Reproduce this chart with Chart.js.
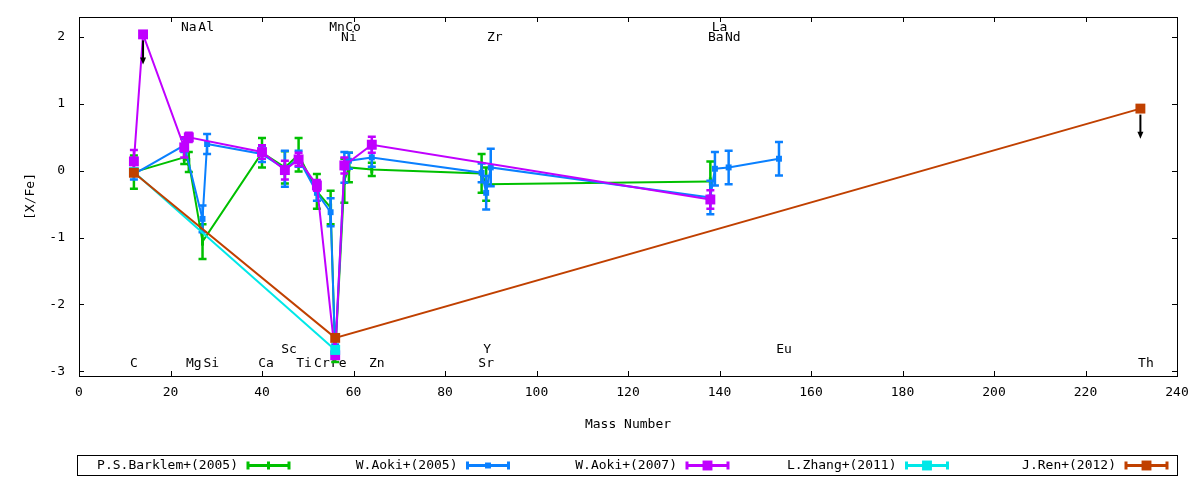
<!DOCTYPE html>
<html>
<head>
<meta charset="utf-8">
<script src="https://cdn.jsdelivr.net/npm/chart.js@4.4.1/dist/chart.umd.min.js"></script>
<style>
  html, body { margin: 0; padding: 0; background: #fff; }
  #wrap { width: 1200px; height: 480px; }
</style>
</head>
<body>
<div id="wrap"><canvas id="abund"></canvas></div>
<script>
const xTicks = [0, 20, 40, 60, 80, 100, 120, 140, 160, 180, 200, 220, 240];
const yTicks = [-3, -2, -1, 0, 1, 2];

const seriesNames = ["P.S.Barklem+(2005)", "W.Aoki+(2005)", "W.Aoki+(2007)", "L.Zhang+(2011)", "J.Ren+(2012)"];

// P.S.Barklem+(2005)
const barklemMass = [12, 23, 24, 27, 40, 45, 48, 52, 55, 56, 58, 59, 64, 88, 89, 138];
const barklemVal  = [-0.02, 0.2, 0.13, -1.06, 0.27, 0.05, 0.24, -0.31, -0.55, -2.75, -0.15, 0.05, 0.02, -0.04, -0.2, -0.16];
const barklemErr  = [0.25, 0.1, 0.15, 0.26, 0.22, 0.24, 0.25, 0.26, 0.25, 0.11, 0.33, 0.22, 0.1, 0.29, 0.25, 0.3];

// W.Aoki+(2005)
const aoki05Mass = [12, 23, 27, 28, 40, 45, 48, 52, 55, 56, 58, 59, 64, 88, 89, 90, 138, 139, 142, 153];
const aoki05Val  = [-0.05, 0.38, -0.72, 0.4, 0.25, 0.03, 0.18, -0.33, -0.62, -2.7, 0.05, 0.15, 0.2, -0.03, -0.33, 0.05, -0.4, 0.03, 0.05, 0.18];
const aoki05Err  = [0.08, 0.1, 0.2, 0.15, 0.12, 0.27, 0.12, 0.12, 0.21, 0.1, 0.23, 0.12, 0.14, 0.14, 0.25, 0.28, 0.25, 0.25, 0.25, 0.25];

// W.Aoki+(2007)
const aoki07Mass  = [12, 14, 23, 24, 40, 45, 48, 52, 56, 58, 64, 138];
const aoki07Val   = [0.14, 2.04, 0.35, 0.5, 0.28, 0.01, 0.17, -0.22, -2.76, 0.08, 0.39, -0.43];
const aoki07Err   = [0.17, 0, 0.15, 0.07, 0.1, 0.14, 0.1, 0.08, 0.05, 0.12, 0.12, 0.14];
const aoki07Upper = [14];

// L.Zhang+(2011)
const zhangMass = [12, 56];
const zhangVal  = [-0.02, -2.68];
const zhangErr  = [0.03, 0.05];

// J.Ren+(2012)
const renMass  = [12, 56, 232];
const renVal   = [-0.03, -2.5, 0.93];
const renErr   = [0, 0, 0];
const renUpper = [232];

// element labels
const elemNames = ["Na", "Al", "Mn", "Co", "Ni", "Zr", "La", "Ba", "Nd",
                   "C", "Mg", "Si", "Ca", "Sc", "Ti", "Cr", "Fe", "Zn", "Y", "Sr", "Eu", "Th"];
const elemX = [24.0, 27.8, 56.4, 59.9, 59.0, 90.9, 140.0, 139.2, 142.9,
               12.0, 25.1, 28.9, 40.9, 45.9, 49.2, 53.1, 56.8, 65.1, 89.2, 89.0, 154.1, 233.2];
const elemY = [2.14, 2.14, 2.14, 2.14, 1.99, 1.99, 2.14, 1.99, 1.99,
               -2.89, -2.89, -2.89, -2.89, -2.68, -2.89, -2.89, -2.89, -2.89, -2.68, -2.89, -2.68, -2.89];

const colors = ["#00c000", "#0a80ff", "#c000ff", "#00e8e8", "#c04000"];
const FONT = { family: "'DejaVu Sans Mono', monospace", size: 13 };

function pts(mass, val) {
  return mass.map((m, i) => ({ x: m, y: val[i] }));
}

function makeSet(i, mass, val, err, upper, style, radius) {
  return {
    label: seriesNames[i],
    data: pts(mass, val),
    errors: err,
    upper: upper || [],
    borderColor: colors[i],
    backgroundColor: colors[i],
    pointBackgroundColor: colors[i],
    pointBorderWidth: style === "line" ? 3 : 0,
    pointBorderColor: colors[i],
    pointStyle: style,
    pointRotation: style === "line" ? 90 : 0,
    pointRadius: radius,
    borderWidth: 2,
    tension: 0,
    order: 4 - i,
  };
}

const errorBars = {
  id: "errorBars",
  afterDatasetDraw(chart, args) {
    const ds = chart.data.datasets[args.index];
    const yScale = chart.scales.y;
    const area = chart.chartArea;
    const ctx = chart.ctx;
    ctx.save();
    ctx.beginPath();
    ctx.rect(area.left, area.top, area.right - area.left, area.bottom - area.top);
    ctx.clip();
    ctx.strokeStyle = ds.borderColor;
    ctx.lineWidth = 2.5;
    args.meta.data.forEach((el, i) => {
      const e = ds.errors[i];
      if (!e) return;
      const v = ds.data[i].y;
      const top = yScale.getPixelForValue(v + e);
      const bot = yScale.getPixelForValue(v - e);
      ctx.beginPath();
      ctx.moveTo(el.x, top); ctx.lineTo(el.x, bot);
      ctx.moveTo(el.x - 4, top); ctx.lineTo(el.x + 4, top);
      ctx.moveTo(el.x - 4, bot); ctx.lineTo(el.x + 4, bot);
      ctx.stroke();
    });
    // upper limits: black arrow pointing down
    ctx.strokeStyle = "#000";
    ctx.fillStyle = "#000";
    ctx.lineWidth = 2;
    args.meta.data.forEach((el, i) => {
      if (ds.upper.indexOf(ds.data[i].x) < 0) return;
      const v = ds.data[i].y;
      const y0 = el.y + 6;
      const y1 = yScale.getPixelForValue(v - 0.45);
      ctx.beginPath();
      ctx.moveTo(el.x, y0); ctx.lineTo(el.x, y1 - 4);
      ctx.stroke();
      ctx.beginPath();
      ctx.moveTo(el.x - 3, y1 - 7); ctx.lineTo(el.x + 3, y1 - 7); ctx.lineTo(el.x, y1);
      ctx.closePath();
      ctx.fill();
    });
    ctx.restore();
  },
};

const elementLabels = {
  id: "elementLabels",
  beforeDatasetsDraw(chart) {
    const ctx = chart.ctx;
    const xs = chart.scales.x, ys = chart.scales.y;
    ctx.save();
    ctx.font = FONT.size + "px " + FONT.family;
    ctx.fillStyle = "#000";
    ctx.textAlign = "center";
    ctx.textBaseline = "middle";
    elemNames.forEach((n, i) => {
      ctx.fillText(n, xs.getPixelForValue(elemX[i]), ys.getPixelForValue(elemY[i]));
    });
    ctx.restore();
  },
};

const frameAndLegend = {
  id: "frameAndLegend",
  afterDraw(chart) {
    const ctx = chart.ctx;
    const a = chart.chartArea;
    const xs = chart.scales.x, ys = chart.scales.y;
    ctx.save();
    ctx.strokeStyle = "#000";
    ctx.lineWidth = 1;
    // inward ticks on all four sides
    ctx.beginPath();
    xs.ticks.forEach(t => {
      const px = Math.round(xs.getPixelForValue(t.value)) + 0.5;
      ctx.moveTo(px, a.bottom); ctx.lineTo(px, a.bottom - 5);
      ctx.moveTo(px, a.top); ctx.lineTo(px, a.top + 5);
    });
    ys.ticks.forEach(t => {
      const py = Math.round(ys.getPixelForValue(t.value)) + 0.5;
      ctx.moveTo(a.left, py); ctx.lineTo(a.left + 5, py);
      ctx.moveTo(a.right, py); ctx.lineTo(a.right - 5, py);
    });
    ctx.stroke();
    ctx.strokeRect(Math.round(a.left) + 0.5, Math.round(a.top) + 0.5,
                   Math.round(a.right - a.left), Math.round(a.bottom - a.top));

    // legend row
    ctx.strokeRect(77.5, 455.5, 1100, 20);
    ctx.font = FONT.size + "px " + FONT.family;
    ctx.textAlign = "right";
    ctx.textBaseline = "middle";
    chart.data.datasets.forEach((ds, i) => {
      const textEnd = 238 + 219.5 * i;
      const y = 465.5;
      ctx.fillStyle = "#000";
      ctx.fillText(ds.label, textEnd, y);
      const x0 = textEnd + 9, x1 = textEnd + 52, xm = (x0 + x1) / 2;
      ctx.strokeStyle = ds.borderColor;
      ctx.lineWidth = 3;
      ctx.beginPath();
      ctx.moveTo(x0, y); ctx.lineTo(x1, y);
      ctx.moveTo(x0 + 1, y - 4); ctx.lineTo(x0 + 1, y + 4);
      ctx.moveTo(x1 - 1, y - 4); ctx.lineTo(x1 - 1, y + 4);
      ctx.stroke();
      ctx.fillStyle = ds.borderColor;
      if (ds.pointStyle === "line") {
        ctx.fillRect(xm - 1.5, y - 4, 3, 8);
      } else {
        const s = ds.pointRadius * Math.SQRT2;
        ctx.fillRect(xm - s / 2, y - s / 2, s, s);
      }
    });
    ctx.restore();
  },
};

const chart = new Chart(document.getElementById("abund"), {
  type: "line",
  data: {
    datasets: [
      makeSet(0, barklemMass, barklemVal, barklemErr, null, "line", 4),
      makeSet(1, aoki05Mass, aoki05Val, aoki05Err, null, "rect", 4.2),
      makeSet(2, aoki07Mass, aoki07Val, aoki07Err, aoki07Upper, "rect", 7),
      makeSet(3, zhangMass, zhangVal, zhangErr, null, "rect", 7),
      makeSet(4, renMass, renVal, renErr, renUpper, "rect", 7),
    ],
  },
  options: {
    responsive: true,
    maintainAspectRatio: false,
    animation: false,
    events: [],
    layout: { padding: { top: 17, right: 23, left: 0, bottom: 0 } },
    plugins: { legend: { display: false }, tooltip: { enabled: false } },
    scales: {
      x: {
        type: "linear",
        min: 0,
        max: 240,
        grid: { display: false, drawTicks: false },
        border: { display: false },
        afterBuildTicks: s => { s.ticks = xTicks.map(v => ({ value: v })); },
        afterFit: s => { s.height = 104; s.paddingLeft = 0; s.paddingRight = 0; },
        ticks: { font: FONT, color: "#000", padding: 9, maxRotation: 0, autoSkip: false },
        title: { display: true, text: "Mass Number", font: FONT, color: "#000", padding: { top: 0, bottom: 48 } },
      },
      y: {
        type: "linear",
        min: -3.07,
        max: 2.3,
        grid: { display: false, drawTicks: false },
        border: { display: false },
        afterBuildTicks: s => { s.ticks = yTicks.map(v => ({ value: v })); },
        afterFit: s => { s.width = 79; s.paddingTop = 0; s.paddingBottom = 0; },
        ticks: { font: FONT, color: "#000", padding: 14 },
        title: { display: true, text: "[X/Fe]", font: FONT, color: "#000", padding: { top: 23, bottom: 0 } },
      },
    },
  },
  plugins: [elementLabels, errorBars, frameAndLegend],
});
</script>
</body>
</html>
